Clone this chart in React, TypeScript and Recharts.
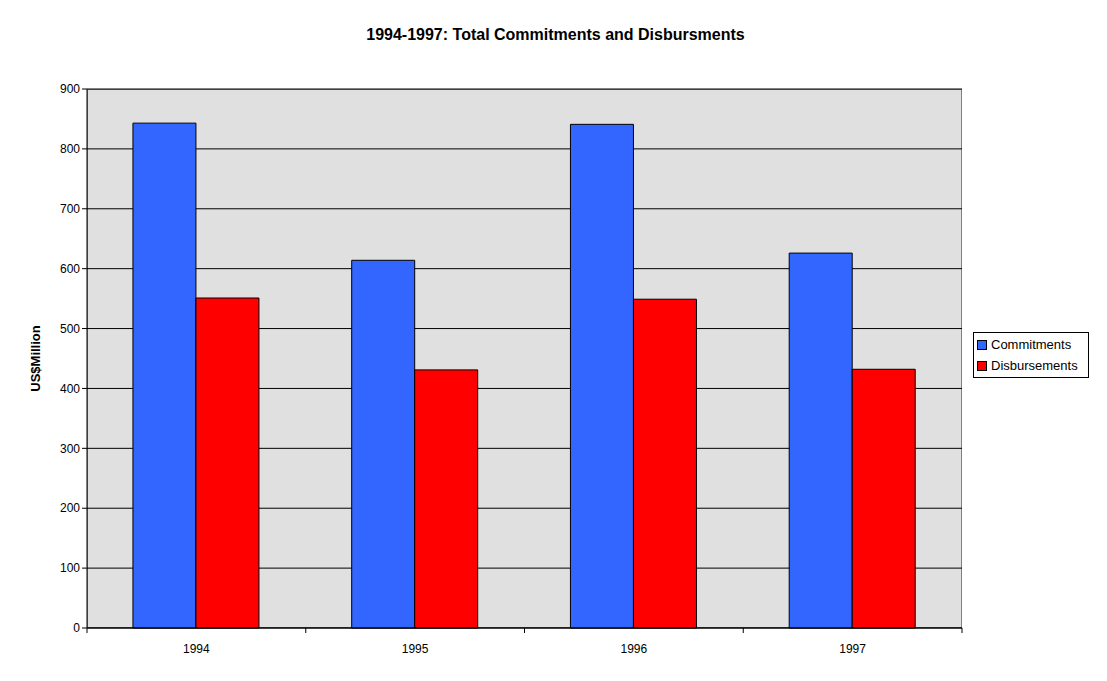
import React from "react";
import { BarChart, Bar, XAxis, YAxis, CartesianGrid } from "recharts";

const years = ["1994", "1995", "1996", "1997"];
const commitments = [843, 614, 841, 626];
const disbursements = [551, 431, 549, 432];
const yTicks = [0, 100, 200, 300, 400, 500, 600, 700, 800, 900];

const data = years.map((y, i) => ({ year: y, c: commitments[i], d: disbursements[i] }));
const font = "'Liberation Sans', Arial, sans-serif";
const half = 875 / 8;

const XTick = (props: any) => {
  const { x, y, payload, index } = props;
  return (
    <g>
      <line x1={x - half} x2={x - half} y1={y - 8} y2={y - 3} stroke="#000" />
      {index === years.length - 1 && <line x1={x + half} x2={x + half} y1={y - 8} y2={y - 3} stroke="#000" />}
      <text x={x} y={y + 17} textAnchor="middle" fontSize={12} fontFamily={font} fill="#000">{payload.value}</text>
    </g>
  );
};

const LegendBox = () => (
  <div style={{ position: "absolute", left: 973, top: 332, border: "1px solid #000", background: "#fff", padding: "1px 3px", fontFamily: font, fontSize: 13, width: 116, boxSizing: "border-box" }}>
    {[["Commitments", "#3366ff"], ["Disbursements", "#ff0000"]].map(([n, c]) => (
      <div key={n} style={{ display: "flex", alignItems: "center", height: 21 }}>
        <span style={{ width: 8, height: 8, background: c, border: "1px solid #000", marginRight: 4 }} />
        {n}
      </div>
    ))}
  </div>
);

export default function App() {
  return (
    <div style={{ position: "absolute", left: 0, top: 0, width: 1107, height: 681, background: "#fff" }}>
      <div style={{ position: "absolute", top: 26, left: 2, width: 1107, textAlign: "center", fontFamily: font, fontWeight: "bold", fontSize: 16 }}>
        1994-1997: Total Commitments and Disbursments
      </div>
      <div style={{ position: "absolute", left: 87, top: 89, width: 875, height: 539, background: "#e0e0e0", border: "1px solid #808080", boxSizing: "border-box" }} />
      <div style={{ position: "absolute", left: 0, top: 0 }}>
        <BarChart width={1107} height={681} data={data} margin={{ top: 89, right: 145, bottom: 23, left: 27 }}
          barCategoryGap="21%" barGap={0}>
          <CartesianGrid vertical={false} stroke="#000" />
          <XAxis dataKey="year" height={30} tick={<XTick />} tickLine={false} axisLine={{ stroke: "#000" }} />
          <YAxis width={60} domain={[0, 900]} ticks={yTicks} interval={0} axisLine={{ stroke: "#000" }}
            tickLine={{ stroke: "#000" }} tickSize={5}
            tick={{ fontSize: 12, fontFamily: font, fill: "#000" }}
            label={{ value: "US$Million", angle: -90, position: "insideLeft", offset: 8, style: { fontFamily: font, fontWeight: "bold", fontSize: 13, fill: "#000", textAnchor: "middle" } }} />
          <Bar dataKey="c" fill="#3366ff" stroke="#000" isAnimationActive={false} />
          <Bar dataKey="d" fill="#ff0000" stroke="#000" isAnimationActive={false} />
        </BarChart>
      </div>
      <LegendBox />
    </div>
  );
}
